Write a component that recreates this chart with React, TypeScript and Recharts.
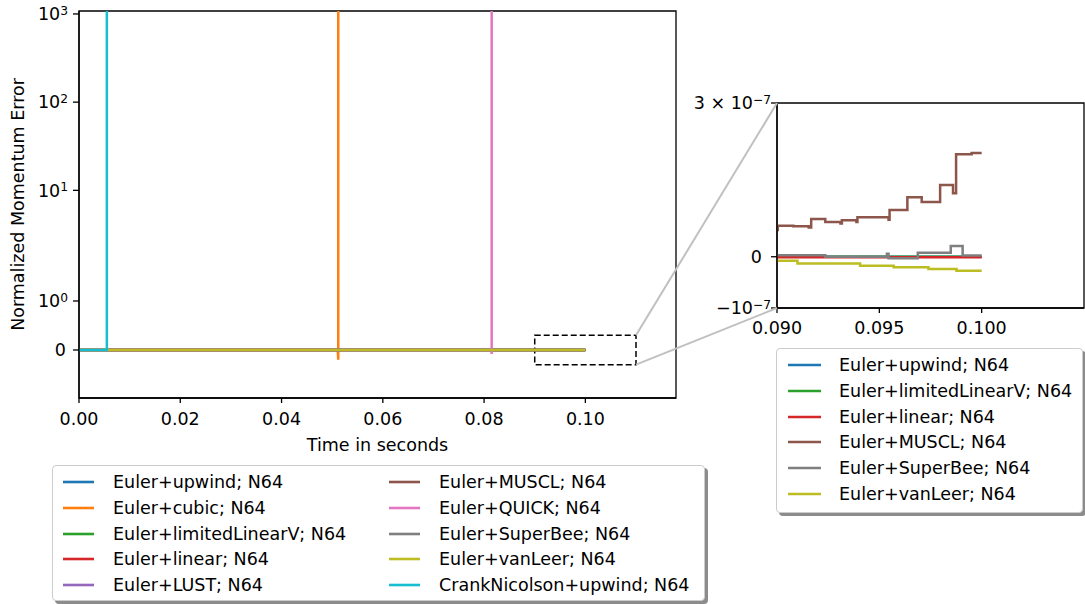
import React from 'react';
import { LineChart, Line, XAxis, YAxis, ReferenceArea } from 'recharts';

// series labels + matplotlib tab10 colours
const seriesNames = [
  'Euler+upwind; N64',
  'Euler+cubic; N64',
  'Euler+limitedLinearV; N64',
  'Euler+linear; N64',
  'Euler+LUST; N64',
  'Euler+MUSCL; N64',
  'Euler+QUICK; N64',
  'Euler+SuperBee; N64',
  'Euler+vanLeer; N64',
  'CrankNicolson+upwind; N64',
];
const seriesColors = ['#1f77b4', '#ff7f0e', '#2ca02c', '#d62728', '#9467bd', '#8c564b', '#e377c2', '#7f7f7f', '#bcbd22', '#17becf'];

// [time, normalized momentum error]
const upwind = [[0, 0], [0.09, 0], [0.1, 0]];
const cubic = [[0, 0], [0.0511, 0], [0.0512, -0.2], [0.0512, 1e4]];
const limitedLinearV = [[0, 0], [0.09, 0], [0.1, 0]];
const linear = [[0, 0], [0.09, -1e-9], [0.1, -1e-9]];
const lust = [[0, 0], [0.1, 0]];
const muscl = [
  [0, 0], [0.09, 5.2e-8], [0.09004, 6.05e-8], [0.0908, 5.95e-8], [0.09155, 5.7e-8], [0.09167, 7.36e-8],
  [0.09236, 6.78e-8], [0.0931, 6.5e-8], [0.09317, 7.11e-8], [0.09388, 6.8e-8], [0.09393, 7.69e-8],
  [0.09545, 7.2e-8], [0.0955, 9.12e-8], [0.09637, 1.16e-7], [0.09707, 1.068e-7], [0.09797, 1.4e-7],
  [0.0986, 1.238e-7], [0.09875, 2.0e-7], [0.09951, 2.025e-7], [0.1, 2.025e-7],
];
const quick = [[0, 0], [0.0814, 0], [0.0815, -0.08], [0.0815, 1e4]];
const superBee = [
  [0, 0], [0.09, 3e-9], [0.09236, 0], [0.09537, 6e-9], [0.09545, -3e-9], [0.09688, 7.8e-9],
  [0.09849, 2.09e-8], [0.09907, 2.6e-9], [0.1, 2.6e-9],
];
const vanLeer = [
  [0, 0], [0.09, -7.8e-9], [0.091, -1.3e-8], [0.09406, -1.76e-8], [0.0957, -2.05e-8],
  [0.0974, -2.4e-8], [0.09877, -2.75e-8], [0.1, -2.75e-8],
];
const crankNicolson = [[0, 0], [0.0055, 0], [0.0055, 1e4]];

const seriesPoints = [upwind, cubic, limitedLinearV, linear, lust, muscl, quick, superBee, vanLeer, crankNicolson];
const insetSeries = [0, 2, 3, 5, 7, 8];

const mainXTicks = [0, 0.02, 0.04, 0.06, 0.08, 0.1];
const mainYTicks = [0, 1, 10, 100, 1000];
const insetXTicks = [0.09, 0.095, 0.1];
const insetYTicks = [-1e-7, 0, 3e-7];

const MAIN_X = [0, 0.1179];
const MAIN_Y = [-0.98, 1080];
const INSET_X = [0.09, 0.105];
const INSET_Y = [-1e-7, 3e-7];
const ZOOM_BOX = { x1: 0.09, x2: 0.11, y1: -0.3, y2: 0.3 };

const FONT = 'DejaVu Sans, sans-serif';
const FS = 17.5;
const LW = 2.5;

// matplotlib style symlog (linthresh 2, linscale 1)
const LINTHRESH = 2;
const LINSCALE = 1;
function symlogFwd(v: number) {
  const adj = LINSCALE / (1 - 1 / 10);
  const a = Math.abs(v);
  const r = a <= LINTHRESH ? a * adj : LINTHRESH * (adj + Math.log10(a / LINTHRESH));
  return v < 0 ? -r : r;
}
function symlogInv(f: number) {
  const adj = LINSCALE / (1 - 1 / 10);
  const a = Math.abs(f);
  const r = a <= LINTHRESH * adj ? a / adj : LINTHRESH * Math.pow(10, a / LINTHRESH - adj);
  return f < 0 ? -r : r;
}
function makeSymlogScale(dom: number[] = [0, 1], rng: number[] = [0, 1]) {
  let d = dom.slice();
  let r = rng.slice();
  const scale: any = (v: number) => {
    const f0 = symlogFwd(d[0]);
    const f1 = symlogFwd(d[d.length - 1]);
    return r[0] + ((symlogFwd(v) - f0) / (f1 - f0)) * (r[r.length - 1] - r[0]);
  };
  scale.domain = (x?: number[]) => {
    if (x === undefined) return d.slice();
    d = x.map(Number);
    return scale;
  };
  scale.range = (x?: number[]) => {
    if (x === undefined) return r.slice();
    r = x.map(Number);
    return scale;
  };
  scale.invert = (px: number) => {
    const f0 = symlogFwd(d[0]);
    const f1 = symlogFwd(d[d.length - 1]);
    return symlogInv(f0 + ((px - r[0]) / (r[r.length - 1] - r[0])) * (f1 - f0));
  };
  scale.ticks = () => mainYTicks.slice();
  scale.tickFormat = () => (v: number) => String(v);
  scale.copy = () => makeSymlogScale(d, r);
  return scale;
}
const mainYScale = makeSymlogScale();

// layout
const MAIN = { left: 79, top: 11, width: 597, height: 387 };
const INSET = { left: 777, top: 103, width: 307, height: 205 };

const toRows = (pts: number[][]) => pts.map(([t, v]) => ({ t, v }));

const MainYTick = (props: any) => {
  const { x, y, payload } = props;
  const v = payload.value;
  if (v === 0) {
    return <text x={x} y={y} dy="0.36em" textAnchor="end" fontSize={FS} fontFamily={FONT} fill="#000">0</text>;
  }
  const exp = Math.round(Math.log10(v));
  return (
    <text x={x + 2} y={y} dy="0.36em" textAnchor="end" fontSize={FS} fontFamily={FONT} fill="#000">
      <tspan>10</tspan>
      <tspan dy="-0.45em" fontSize={FS * 0.7}>{exp}</tspan>
    </text>
  );
};

const InsetYTick = (props: any) => {
  const { x, y, payload } = props;
  const v = payload.value;
  const common = { y, textAnchor: 'end' as const, fontSize: FS, fontFamily: FONT, fill: '#000' };
  if (v === 0) return <text x={x} dy="0.36em" {...common}>0</text>;
  const exp = Math.round(Math.log10(Math.abs(v)));
  const mant = Math.round(Math.abs(v) / Math.pow(10, exp));
  const sign = v < 0 ? '\u2212' : '';
  return (
    <text x={x + 9} dy="0.36em" {...common}>
      <tspan>{sign}{mant !== 1 ? `${mant} \u00d7 ` : ''}10</tspan>
      <tspan dy="-0.45em" fontSize={FS * 0.7}>{'\u2212' + Math.abs(exp)}</tspan>
    </text>
  );
};

const XTick = (digits: number) => (props: any) => {
  const { x, y, payload } = props;
  return (
    <text x={x} y={y} dy="0.71em" textAnchor="middle" fontSize={FS} fontFamily={FONT} fill="#000">
      {payload.value.toFixed(digits)}
    </text>
  );
};

const LegendBox = ({ items, style, columns, textOffset, lineLeft, lineLen, colGap }: any) => (
  <div
    style={{
      position: 'absolute',
      background: '#fff',
      border: '1px solid #cccccc',
      borderRadius: 4,
      boxShadow: '3px 3px 0 #8c8c8c',
      fontFamily: FONT,
      fontSize: FS,
      color: '#000',
      ...style,
    }}
  >
    {items.map((idx: number, k: number) => {
      const perCol = Math.ceil(items.length / columns);
      const col = Math.floor(k / perCol);
      const row = k % perCol;
      const cy = 16 + row * 25.8;
      const x0 = col * (colGap || 0);
      return (
        <div key={idx}>
          <svg
            width={lineLen}
            height={6}
            style={{ position: 'absolute', left: x0 + lineLeft, top: Math.round(cy) - 3 }}
          >
            <line x1={0} x2={lineLen} y1={3} y2={3} stroke={seriesColors[idx]} strokeWidth={2.6} />
          </svg>
          <div style={{ position: 'absolute', left: x0 + textOffset, top: cy - 11, lineHeight: '22px', whiteSpace: 'nowrap' }}>
            {seriesNames[idx]}
          </div>
        </div>
      );
    })}
  </div>
);

export default function App() {
  const mainW = 700;
  const mainH = 460;
  const yAxisW = 60;
  const xAxisH = 30;

  const insetLeft = 680;
  const insetTop = 90;
  const insetW = 405;
  const insetH = 260;
  const insetYAxisW = 90;

  // connector endpoints from the zoom box to the inset frame
  const mx = (t: number) => MAIN.left + ((t - MAIN_X[0]) / (MAIN_X[1] - MAIN_X[0])) * MAIN.width;
  const myScale = makeSymlogScale(MAIN_Y, [MAIN.top + MAIN.height, MAIN.top]);
  const boxRight = mx(ZOOM_BOX.x2);
  const boxTop = myScale(ZOOM_BOX.y2);
  const boxBottom = myScale(ZOOM_BOX.y1);

  return (
    <div style={{ position: 'absolute', left: 0, top: 0, width: 1085, height: 604, background: '#fff', fontFamily: FONT }}>
      <div style={{ position: 'absolute', left: 0, top: 0 }}>
        <LineChart
          width={mainW}
          height={mainH}
          margin={{ top: MAIN.top, left: MAIN.left - yAxisW, right: mainW - MAIN.left - MAIN.width, bottom: mainH - MAIN.top - MAIN.height - xAxisH }}
        >
          <XAxis
            dataKey="t"
            type="number"
            domain={MAIN_X}
            ticks={mainXTicks}
            allowDataOverflow
            height={xAxisH}
            tickSize={5}
            tickMargin={10}
            stroke="#000"
            strokeWidth={1.3}
            tick={XTick(2)}
            label={{
              content: (p: any) => {
                const vb = p.viewBox || { x: MAIN.left, y: MAIN.top + MAIN.height, width: MAIN.width };
                return (
                  <text x={vb.x + vb.width / 2} y={vb.y + 53} textAnchor="middle" fontSize={FS} fontFamily={FONT} fill="#000">
                    Time in seconds
                  </text>
                );
              },
            }}
          />
          <YAxis
            type="number"
            domain={MAIN_Y}
            scale={mainYScale}
            ticks={mainYTicks}
            allowDataOverflow
            width={yAxisW}
            tickSize={6}
            tickMargin={7}
            stroke="#000"
            strokeWidth={1.3}
            tick={<MainYTick />}
            label={{
              content: (p: any) => {
                const vb = p.viewBox || { x: MAIN.left - yAxisW, y: MAIN.top, height: MAIN.height };
                const cx = vb.x + 5;
                const cy = vb.y + vb.height / 2;
                return (
                  <text x={cx} y={cy} transform={`rotate(-90, ${cx}, ${cy})`} textAnchor="middle" fontSize={FS} fontFamily={FONT} fill="#000">
                    Normalized Momentum Error
                  </text>
                );
              },
            }}
          />
          {seriesPoints.map((pts, i) => (
            <Line
              key={seriesNames[i]}
              data={toRows(pts)}
              dataKey="v"
              type="linear"
              stroke={seriesColors[i]}
              strokeWidth={LW}
              dot={false}
              isAnimationActive={false}
            />
          ))}
          <ReferenceArea
            x1={ZOOM_BOX.x1}
            x2={ZOOM_BOX.x2}
            y1={ZOOM_BOX.y1}
            y2={ZOOM_BOX.y2}
            fill="none"
            fillOpacity={0}
            stroke="#000"
            strokeWidth={1.5}
            strokeDasharray="6 3"
          />
          {/* axes frame */}
          <ReferenceArea x1={MAIN_X[0]} x2={MAIN_X[1]} y1={MAIN_Y[0]} y2={MAIN_Y[1]} fill="none" fillOpacity={0} stroke="#000" strokeWidth={1.3} />
        </LineChart>
      </div>

      <div style={{ position: 'absolute', left: insetLeft, top: insetTop }}>
        <LineChart
          width={insetW}
          height={insetH}
          margin={{
            top: INSET.top - insetTop,
            left: INSET.left - insetLeft - insetYAxisW,
            right: insetLeft + insetW - INSET.left - INSET.width,
            bottom: insetTop + insetH - INSET.top - INSET.height - xAxisH,
          }}
        >
          <XAxis
            dataKey="t"
            type="number"
            domain={INSET_X}
            ticks={insetXTicks}
            allowDataOverflow
            height={xAxisH}
            tickSize={5}
            tickMargin={9}
            stroke="#000"
            strokeWidth={1.3}
            tick={XTick(3)}
          />
          <YAxis
            type="number"
            domain={INSET_Y}
            ticks={insetYTicks}
            allowDataOverflow
            width={insetYAxisW}
            tickSize={6}
            tickMargin={9}
            stroke="#000"
            strokeWidth={1.3}
            tick={<InsetYTick />}
          />
          {insetSeries.map((i) => (
            <Line
              key={seriesNames[i]}
              data={toRows(seriesPoints[i].filter(([t]) => t >= INSET_X[0]))}
              dataKey="v"
              type="stepAfter"
              stroke={seriesColors[i]}
              strokeWidth={LW}
              dot={false}
              isAnimationActive={false}
            />
          ))}
          <ReferenceArea x1={INSET_X[0]} x2={INSET_X[1]} y1={INSET_Y[0]} y2={INSET_Y[1]} fill="none" fillOpacity={0} stroke="#000" strokeWidth={1.3} />
        </LineChart>
      </div>

      <svg width={1085} height={604} style={{ position: 'absolute', left: 0, top: 0, pointerEvents: 'none' }}>
        <line x1={boxRight} y1={boxTop} x2={INSET.left} y2={INSET.top} stroke="#c0c0c0" strokeWidth={2} />
        <line x1={boxRight} y1={boxBottom} x2={INSET.left} y2={INSET.top + INSET.height} stroke="#c0c0c0" strokeWidth={2} />
      </svg>

      <LegendBox
        items={[0, 1, 2, 3, 4, 5, 6, 7, 8, 9]}
        columns={2}
        colGap={326}
        lineLeft={10}
        lineLen={31}
        textOffset={60}
        style={{ left: 52, top: 465, width: 651, height: 134 }}
      />
      <LegendBox
        items={insetSeries}
        columns={1}
        lineLeft={11}
        lineLen={33}
        textOffset={62}
        style={{ left: 776, top: 348, width: 305, height: 163 }}
      />
    </div>
  );
}
